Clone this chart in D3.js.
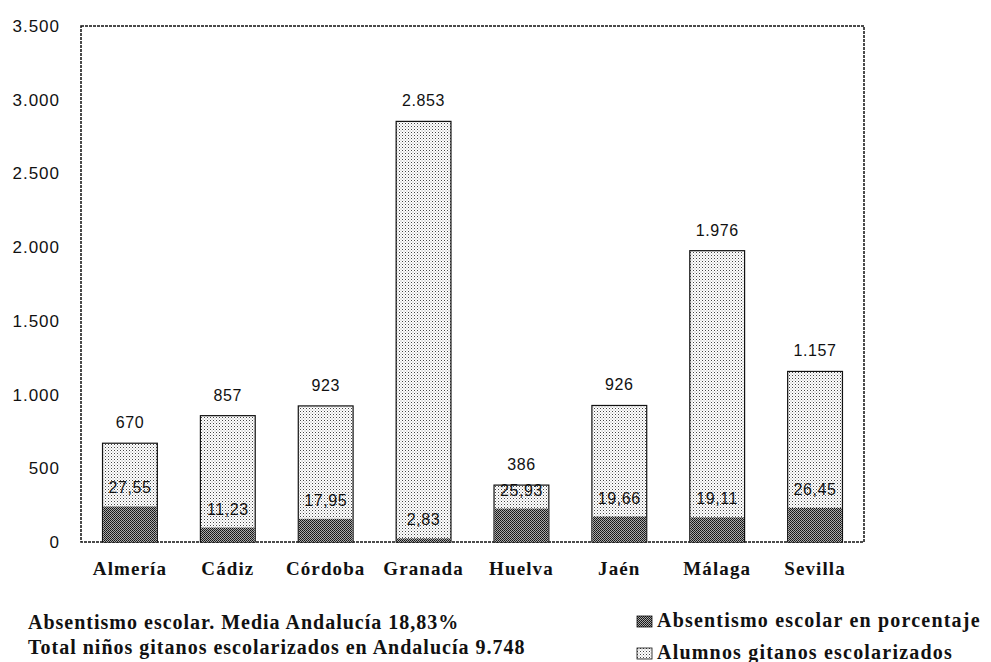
<!DOCTYPE html>
<html>
<head>
<meta charset="UTF-8" />
<title>alumnos gitanos</title>
<style>
  body { margin: 0; padding: 0; background: #fff; overflow: hidden; }
  svg { display: block; }
  .num { font-family: 'Liberation Sans', Arial, sans-serif; fill: #111; }
  .serif { font-family: 'Liberation Serif', 'Times New Roman', serif; font-weight: bold; fill: #111; }
</style>
</head>
<body>
<div class="container"></div>
<script src="https://cdnjs.cloudflare.com/ajax/libs/d3/7.8.5/d3.min.js"></script>
<script>
const provincias = ['Almería', 'Cádiz', 'Córdoba', 'Granada', 'Huelva', 'Jaén', 'Málaga', 'Sevilla']
const alumnos = [670, 857, 923, 2853, 386, 926, 1976, 1157]
const absentismo = [27.55, 11.23, 17.95, 2.83, 25.93, 19.66, 19.11, 26.45]
const yTicks = [0, 500, 1000, 1500, 2000, 2500, 3000, 3500]
const notas = ['Absentismo escolar. Media Andalucía 18,83%', 'Total niños gitanos escolarizados en Andalucía 9.748']
const leyenda = ['Absentismo escolar en porcentaje', 'Alumnos gitanos escolarizados']

const width = 991, height = 662
const m = { left: 81, right: 864, top: 26, bottom: 542 }

const fmtNum = d => d3.format(',')(d).replace(/,/g, '.')
const fmtPct = d => d.toFixed(2).replace('.', ',')

const svg = d3.select('.container').append('svg')
  .attr('width', width).attr('height', height)

// patterns: light dots and dark checker
const defs = svg.append('defs')
const light = defs.append('pattern').attr('id', 'light')
  .attr('width', 3).attr('height', 3).attr('patternUnits', 'userSpaceOnUse')
light.append('rect').attr('width', 3).attr('height', 3).attr('fill', '#fff')
light.append('rect').attr('width', 1).attr('height', 1).attr('fill', '#444')
light.append('rect').attr('x', 1.5).attr('y', 1.5).attr('width', 1).attr('height', 1).attr('fill', '#999')

const dark = defs.append('pattern').attr('id', 'dark')
  .attr('width', 2).attr('height', 2).attr('patternUnits', 'userSpaceOnUse')
dark.append('rect').attr('width', 2).attr('height', 2).attr('fill', '#aaa')
dark.append('rect').attr('width', 1).attr('height', 1).attr('fill', '#111')
dark.append('rect').attr('x', 1).attr('y', 1).attr('width', 1).attr('height', 1).attr('fill', '#222')

const x = d3.scaleBand().domain(provincias).range([m.left, m.right]).paddingInner(0.44).paddingOuter(0.22)
const y = d3.scaleLinear().domain([0, 3500]).range([m.bottom, m.top])
// the dark bars are drawn from the percentage on their own scale
const yPct = d3.scaleLinear().domain([0, 400]).range([m.bottom, m.top])

// plot frame
svg.append('rect')
  .attr('x', m.left).attr('y', m.top)
  .attr('width', m.right - m.left).attr('height', m.bottom - m.top)
  .attr('fill', '#fff').attr('stroke', '#111').attr('stroke-width', 1.5)
  .attr('stroke-dasharray', '3,1')

// y axis labels
const yAxis = d3.axisLeft(y).tickValues(yTicks).tickFormat(fmtNum).tickSize(0).tickPadding(21)
svg.append('g').attr('transform', `translate(${m.left},0)`).call(yAxis)
  .call(g => g.select('.domain').remove())
  .selectAll('text').attr('class', 'num').attr('font-size', 17).attr('letter-spacing', 1)

const rows = provincias.map((p, i) => ({ p, total: alumnos[i], pct: absentismo[i] }))

// light bars (alumnos)
svg.append('g').selectAll('rect').data(rows).join('rect')
  .attr('x', d => x(d.p)).attr('width', x.bandwidth())
  .attr('y', d => y(d.total)).attr('height', d => y(0) - y(d.total))
  .attr('fill', 'url(#light)').attr('stroke', '#111').attr('stroke-width', 1.2)

// dark bars (absentismo)
svg.append('g').selectAll('rect').data(rows).join('rect')
  .attr('x', d => x(d.p) + 0.6).attr('width', x.bandwidth() - 1.2)
  .attr('y', d => yPct(d.pct)).attr('height', d => yPct(0) - yPct(d.pct))
  .attr('fill', 'url(#dark)')

// value labels
svg.append('g').selectAll('text').data(rows).join('text')
  .attr('class', 'num').attr('font-size', 16).attr('letter-spacing', 0.6)
  .attr('text-anchor', 'middle')
  .attr('x', d => x(d.p) + x.bandwidth() / 2)
  .attr('y', d => y(d.total) - 15)
  .text(d => fmtNum(d.total))

svg.append('g').selectAll('text').data(rows).join('text')
  .attr('class', 'num').attr('font-size', 16).attr('letter-spacing', 0.6)
  .attr('text-anchor', 'middle')
  .attr('x', d => x(d.p) + x.bandwidth() / 2)
  .attr('y', d => yPct(d.pct) - 13)
  .text(d => fmtPct(d.pct))

// category labels
const xAxis = d3.axisBottom(x).tickSize(0).tickPadding(20)
svg.append('g').attr('transform', `translate(0,${m.bottom})`).call(xAxis)
  .call(g => g.select('.domain').remove())
  .selectAll('text').attr('class', 'serif').attr('font-size', 19).attr('letter-spacing', 1.1)

// notes
svg.append('g').selectAll('text').data(notas).join('text')
  .attr('class', 'serif').attr('font-size', 20).attr('letter-spacing', 1)
  .attr('x', 28).attr('y', (d, i) => 629 + i * 25)
  .text(d => d)

// legend
const keys = svg.append('g').selectAll('g').data(leyenda).join('g')
  .attr('transform', (d, i) => `translate(637,${616 + i * 32})`)
keys.append('rect').attr('width', 15).attr('height', 11)
  .attr('fill', (d, i) => i === 0 ? 'url(#dark)' : 'url(#light)')
  .attr('stroke', '#111').attr('stroke-width', 0.8)
keys.append('text').attr('class', 'serif').attr('font-size', 20).attr('letter-spacing', 1.2)
  .attr('x', 20).attr('y', 11)
  .text(d => d)
</script>
</body>
</html>
